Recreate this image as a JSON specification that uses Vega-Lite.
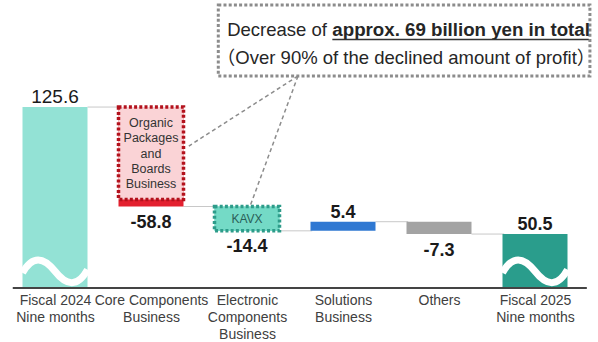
{
  "$schema": "https://vega.github.io/schema/vega-lite/v6.json",
  "width": 586,
  "height": 288,
  "autosize": "none",
  "padding": {"left": 2, "top": 0, "right": 10, "bottom": 54},
  "background": "white",
  "config": {"view": {"stroke": null}, "font": "Liberation Sans"},
  "datasets": {
    "steps": [
      {"i": 0, "name": "Fiscal 2024 Nine months", "kind": "total2024", "start": 0, "end": 125.6, "label": "125.6"},
      {"i": 1, "name": "Core Components Business", "kind": "core", "start": 125.6, "end": 66.8, "label": "-58.8"},
      {"i": 2, "name": "Electronic Components Business", "kind": "electronic", "start": 66.8, "end": 52.4, "label": "-14.4"},
      {"i": 3, "name": "Solutions Business", "kind": "solutions", "start": 52.4, "end": 57.8, "label": "5.4"},
      {"i": 4, "name": "Others", "kind": "others", "start": 57.8, "end": 50.5, "label": "-7.3"},
      {"i": 5, "name": "Fiscal 2025 Nine months", "kind": "total2025", "start": 0, "end": 50.5, "label": "50.5"}
    ],
    "highlights": [
      {"i": 1, "segment": "Organic\nPackages\nand\nBoards\nBusiness", "kind": "organic", "top": 125.6, "bottom": 71.0},
      {"i": 2, "segment": "KAVX", "kind": "kavx", "top": 66.8, "bottom": 52.4}
    ]
  },
  "layer": [
    {
      "data": {"name": "steps"},
      "transform": [{"filter": "datum.i < 5"}],
      "mark": {"type": "rule", "color": "#c8c8c8", "strokeWidth": 1, "xOffset": 32.5, "x2Offset": 65.2},
      "encoding": {
        "x": {"field": "i", "type": "quantitative", "scale": {"domain": [-0.5, 5.5], "nice": false, "zero": false}},
        "x2": {"field": "i"},
        "y": {"field": "end", "type": "quantitative", "scale": {"domain": [18.6, 188.9], "nice": false, "zero": false}, "axis": null}
      }
    },
    {
      "data": {"name": "steps"},
      "mark": {"type": "bar", "orient": "vertical", "width": 65, "clip": true},
      "encoding": {
        "x": {
          "field": "i", "type": "quantitative",
          "scale": {"domain": [-0.5, 5.5], "nice": false, "zero": false},
          "axis": {
            "values": [0, 1, 2, 3, 4, 5],
            "labelExpr": "datum.value == 0 ? ['Fiscal 2024', 'Nine months'] : datum.value == 1 ? ['Core Components', 'Business'] : datum.value == 2 ? ['Electronic', 'Components', 'Business'] : datum.value == 3 ? ['Solutions', 'Business'] : datum.value == 4 ? 'Others' : ['Fiscal 2025', 'Nine months']",
            "ticks": false, "domain": false, "grid": false, "title": null,
            "labelFontSize": 14, "labelColor": "#404040", "labelLineHeight": 17.2,
            "labelPadding": 5, "labelAngle": 0, "labelOverlap": false, "labelFlush": false, "labelBound": false,
            "labelFont": "Liberation Sans"
          }
        },
        "y": {"field": "start", "type": "quantitative", "scale": {"domain": [18.6, 188.9], "nice": false, "zero": false}, "axis": null},
        "y2": {"field": "end"},
        "color": {
          "field": "kind", "type": "nominal", "legend": null,
          "scale": {
            "domain": ["total2024", "core", "electronic", "solutions", "others", "total2025"],
            "range": ["#93e2d5", "#e3202f", "#74dac6", "#2f78d2", "#a3a3a3", "#2a9d8c"]
          }
        }
      }
    },
    {
      "data": {"name": "highlights"},
      "mark": {"type": "bar", "orient": "vertical", "width": 65, "strokeWidth": 3.5, "strokeDash": [3, 2.2]},
      "encoding": {
        "x": {"field": "i", "type": "quantitative"},
        "y": {"field": "top", "type": "quantitative"},
        "y2": {"field": "bottom"},
        "fill": {"field": "kind", "type": "nominal", "legend": null, "scale": {"domain": ["organic", "kavx"], "range": ["#fad3d6", "#74dac6"]}},
        "stroke": {"field": "kind", "type": "nominal", "legend": null, "scale": {"domain": ["organic", "kavx"], "range": ["#b3121d", "#2e9c8a"]}}
      }
    },
    {
      "data": {"name": "highlights"},
      "transform": [{"filter": "datum.kind == 'organic'"}],
      "mark": {"type": "text", "fontSize": 12.5, "color": "#333333", "lineBreak": "\n", "lineHeight": 15.3, "baseline": "middle", "dy": 16},
      "encoding": {
        "x": {"field": "i", "type": "quantitative"},
        "y": {"field": "top", "type": "quantitative"},
        "text": {"field": "segment"}
      }
    },
    {
      "data": {"name": "highlights"},
      "transform": [{"filter": "datum.kind == 'kavx'"}],
      "mark": {"type": "text", "fontSize": 12, "color": "#2b5f58", "baseline": "middle", "dy": 12.5},
      "encoding": {
        "x": {"field": "i", "type": "quantitative"},
        "y": {"field": "top", "type": "quantitative"},
        "text": {"field": "segment"}
      }
    },
    {
      "data": {"name": "steps"},
      "transform": [{"filter": "datum.kind == 'total2024' || datum.kind == 'total2025'"}],
      "mark": {"type": "point", "shape": "M-1,0.05 C-0.7,-0.5 -0.35,-0.45 0,0 C0.35,0.45 0.7,0.5 1,-0.05", "size": 4225, "filled": false, "stroke": "white", "strokeWidth": 7, "opacity": 1},
      "encoding": {
        "x": {"field": "i", "type": "quantitative"},
        "y": {"datum": 28.5}
      }
    },
    {
      "data": {"values": [{}]},
      "mark": {"type": "rule", "color": "#444444", "strokeWidth": 2},
      "encoding": {
        "x": {"datum": -0.44},
        "x2": {"datum": 5.54},
        "y": {"datum": 18.6}
      }
    },
    {
      "data": {"name": "steps"},
      "transform": [{"filter": "datum.i == 0"}],
      "mark": {"type": "text", "fontSize": 19, "color": "#1a1a1a", "baseline": "alphabetic", "dy": -4},
      "encoding": {
        "x": {"field": "i", "type": "quantitative"},
        "y": {"field": "end", "type": "quantitative"},
        "text": {"field": "label"}
      }
    },
    {
      "data": {"name": "steps"},
      "transform": [{"filter": "datum.i > 0 && datum.end > datum.start"}],
      "mark": {"type": "text", "fontSize": 18, "fontWeight": "bold", "color": "#1a1a1a", "baseline": "alphabetic", "dy": -4},
      "encoding": {
        "x": {"field": "i", "type": "quantitative"},
        "y": {"field": "end", "type": "quantitative"},
        "text": {"field": "label"}
      }
    },
    {
      "data": {"name": "steps"},
      "transform": [{"filter": "datum.end < datum.start"}],
      "mark": {"type": "text", "fontSize": 18, "fontWeight": "bold", "color": "#1a1a1a", "baseline": "alphabetic", "dy": 21.5},
      "encoding": {
        "x": {"field": "i", "type": "quantitative"},
        "y": {"field": "end", "type": "quantitative"},
        "text": {"field": "label"}
      }
    },
    {
      "data": {"values": [{}]},
      "mark": {"type": "rule", "color": "#8c8c8c", "strokeWidth": 1.5, "strokeDash": [4, 3]},
      "encoding": {
        "x": {"datum": 2.531}, "y": {"datum": 143.96},
        "x2": {"datum": 1.394}, "y2": {"datum": 102.56}
      }
    },
    {
      "data": {"values": [{}]},
      "mark": {"type": "rule", "color": "#8c8c8c", "strokeWidth": 1.5, "strokeDash": [4, 3]},
      "encoding": {
        "x": {"datum": 2.531}, "y": {"datum": 143.96},
        "x2": {"datum": 2.029}, "y2": {"datum": 66.5}
      }
    },
    {
      "data": {"values": [{}]},
      "mark": {"type": "rect", "fill": "white", "stroke": "#8c8c8c", "strokeWidth": 3, "strokeDash": [3, 2.2]},
      "encoding": {
        "x": {"datum": 1.701}, "x2": {"datum": 5.572},
        "y": {"datum": 185.94}, "y2": {"datum": 143.96}
      }
    },
    {
      "data": {"values": [{"text": "Decrease of "}]},
      "mark": {"type": "text", "fontSize": 18.5, "color": "#262626", "align": "left", "baseline": "alphabetic"},
      "encoding": {
        "x": {"datum": 1.794}, "y": {"datum": 167.6},
        "text": {"field": "text"}
      }
    },
    {
      "data": {"values": [{"text": "approx. 69 billion yen in total"}]},
      "mark": {"type": "text", "fontSize": 18.7, "fontWeight": "bold", "color": "#262626", "align": "left", "baseline": "alphabetic"},
      "encoding": {
        "x": {"datum": 2.889}, "y": {"datum": 167.6},
        "text": {"field": "text"}
      }
    },
    {
      "data": {"values": [{}]},
      "mark": {"type": "rule", "color": "#333333", "strokeWidth": 1.5},
      "encoding": {
        "x": {"datum": 2.889}, "x2": {"datum": 5.56},
        "y": {"datum": 165.5}
      }
    },
    {
      "data": {"values": [{"text": "（Over 90% of the declined amount of profit）"}]},
      "mark": {"type": "text", "fontSize": 18.5, "color": "#262626", "align": "center", "baseline": "alphabetic", "font": "Liberation Sans, Noto Sans CJK JP"},
      "encoding": {
        "x": {"datum": 3.657}, "y": {"datum": 151.05},
        "text": {"field": "text"}
      }
    }
  ]
}
